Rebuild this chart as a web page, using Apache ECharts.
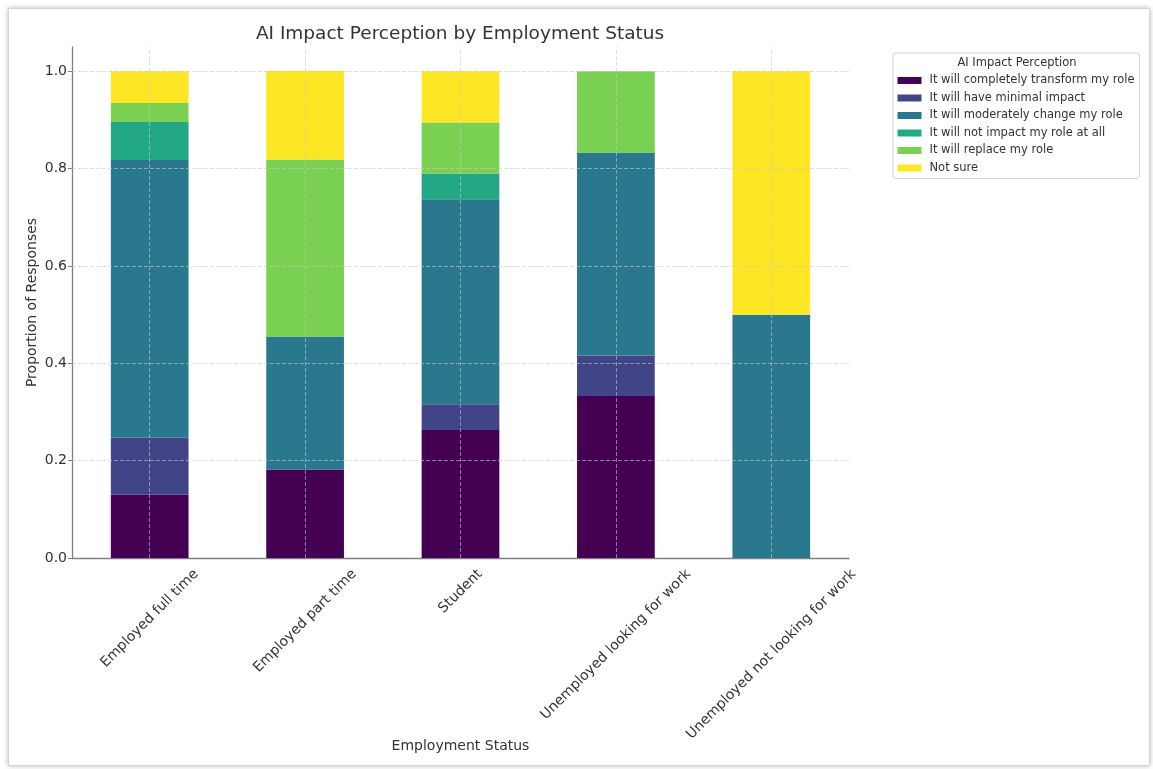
<!DOCTYPE html>
<html>
<head>
<meta charset="utf-8">
<script src="https://cdn.jsdelivr.net/npm/echarts@6/dist/echarts.min.js"></script>
<style>
  html, body { margin: 0; padding: 0; background: #fff; }
  #frame { position: absolute; left: 8px; top: 8px; width: 1140px; height: 756px; border: 1px solid #d4d4d4; box-shadow: 0 0 5px rgba(0,0,0,0.28); background: #fff; }
  #chart { position: absolute; left: 0; top: 0; width: 1153px; height: 769px; }
</style>
</head>
<body>
<div id="frame"></div>
<div id="chart"></div>
<script>
const categories = ['Employed full time', 'Employed part time', 'Student', 'Unemployed looking for work', 'Unemployed not looking for work'];
const perceptions = ['It will completely transform my role', 'It will have minimal impact', 'It will moderately change my role', 'It will not impact my role at all', 'It will replace my role', 'Not sure'];
const transformRole  = [0.130, 0.182, 0.263, 0.333, 0.0];
const minimalImpact  = [0.117, 0.0,   0.053, 0.083, 0.0];
const moderateChange = [0.571, 0.273, 0.421, 0.417, 0.5];
const noImpact       = [0.078, 0.0,   0.053, 0.0,   0.0];
const replaceRole    = [0.039, 0.364, 0.105, 0.167, 0.0];
const notSure        = [0.065, 0.182, 0.105, 0.0,   0.5];
const yTicks = [0, 0.2, 0.4, 0.6, 0.8, 1.0];

const seriesValues = [transformRole, minimalImpact, moderateChange, noImpact, replaceRole, notSure];
const colors = ['#440154', '#414487', '#2a788e', '#22a884', '#7ad151', '#fde725'];

const gridStyle = { color: '#c8c8c8', width: 0.8, type: [4, 2], opacity: 0.75 };
const axisFont = 14;

const series = perceptions.map((name, i) => {
  const s = {
    name: name,
    type: 'bar',
    stack: 'total',
    barWidth: '50%',
    data: seriesValues[i],
    itemStyle: { color: colors[i] },
    emphasis: { disabled: true }
  };
  if (i === perceptions.length - 1) {
    s.markLine = {
      silent: true,
      symbol: ['none', 'none'],
      label: { show: false },
      lineStyle: gridStyle,
      animation: false,
      data: categories.map(c => ({ xAxis: c })).concat(yTicks.filter(v => v > 0).map(v => ({ yAxis: v })))
    };
  }
  return s;
});

const chart = echarts.init(document.getElementById('chart'), null, { renderer: 'canvas' });
chart.setOption({
  animation: false,
  backgroundColor: 'transparent',
  textStyle: { fontFamily: 'DejaVu Sans' },
  title: [
    { text: 'AI Impact Perception by Employment Status', left: 460, top: 25, textAlign: 'center', padding: 0,
      textStyle: { fontSize: 18.5, fontWeight: 'normal', color: '#333', fontFamily: 'DejaVu Sans' } },
    { text: 'AI Impact Perception', left: 1017, top: 57, textAlign: 'center', padding: 0,
      textStyle: { fontSize: 11.5, fontWeight: 'normal', color: '#333', fontFamily: 'DejaVu Sans' } }
  ],
  legend: {
    orient: 'vertical',
    left: 893, top: 53,
    padding: [21, 5, 4, 4.5],
    itemWidth: 24, itemHeight: 7, itemGap: 4.5,
    icon: 'rect',
    borderColor: '#d0d0d0', borderWidth: 1, borderRadius: 3,
    backgroundColor: '#fff',
    selectedMode: false,
    textStyle: { fontSize: 11.5, color: '#333', lineHeight: 13, fontFamily: 'DejaVu Sans', padding: [0, 0, 0, 3] },
    data: perceptions
  },
  grid: { left: 72, right: 304, top: 47, bottom: 211, containLabel: false, outerBoundsMode: 'none' },
  xAxis: {
    type: 'category',
    data: categories,
    name: 'Employment Status',
    nameLocation: 'middle',
    nameGap: 181,
    nameMoveOverlap: false,
    nameTextStyle: { fontSize: axisFont, color: '#333' },
    axisLine: { lineStyle: { color: '#808080', width: 1.3 } },
    axisTick: { alignWithLabel: true, length: 4, lineStyle: { color: '#808080' } },
    axisLabel: { show: false },
    splitLine: { show: false }
  },
  yAxis: {
    type: 'value',
    min: 0, max: 1.05,
    name: 'Proportion of Responses',
    nameLocation: 'middle',
    nameGap: 33,
    nameMoveOverlap: false,
    nameTextStyle: { fontSize: axisFont, color: '#333' },
    axisLine: { show: true, lineStyle: { color: '#808080', width: 1.3 } },
    axisTick: { show: true, length: 4, customValues: yTicks, lineStyle: { color: '#808080' } },
    axisLabel: { customValues: yTicks, formatter: v => v.toFixed(1), fontSize: axisFont, color: '#333', margin: 5 },
    splitLine: { show: false }
  },
  series: series
});

// Rotated category labels, centred on each tick (matplotlib ha='center' style)
const ctx = document.createElement('canvas').getContext('2d');
ctx.font = axisFont + 'px "DejaVu Sans"';
const axisY = chart.convertToPixel({ yAxisIndex: 0 }, 0);
const labelGraphics = categories.map(c => {
  const x = chart.convertToPixel({ xAxisIndex: 0 }, c);
  const w = ctx.measureText(c).width;
  const halfExtent = 0.3536 * (w + axisFont);
  return {
    type: 'text',
    x: x,
    y: axisY + 9 + halfExtent,
    rotation: Math.PI / 4,
    silent: true,
    style: { text: c, fontSize: axisFont, fontFamily: 'DejaVu Sans', fill: '#333', align: 'center', verticalAlign: 'middle' }
  };
});
chart.setOption({ graphic: labelGraphics });
</script>
</body>
</html>
